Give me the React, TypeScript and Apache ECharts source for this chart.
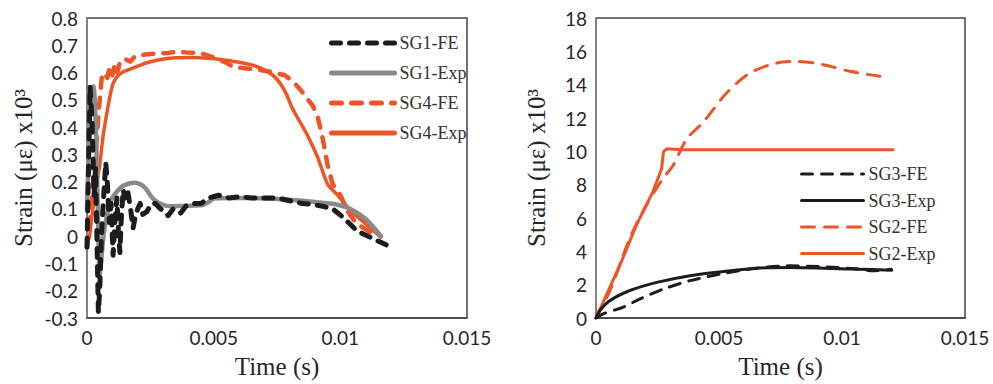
import React, { useEffect, useRef } from "react";
import * as echarts from "echarts";

// Left panel: SG1 / SG4 strain histories [time (s), strain x10^3]
const sg1FE: [number, number][] = [
  [0, -0.04], [0.00008, 0.35], [0.00012, 0.55], [0.0002, 0.42], [0.00028, 0.15], [0.00034, 0.25],
  [0.0004, -0.05], [0.00045, -0.28], [0.0005, -0.2], [0.00058, 0.02], [0.00066, 0.15], [0.00074, 0.27],
  [0.0008, 0.2], [0.00088, 0.05], [0.00095, 0.12], [0.00103, -0.07], [0.0011, 0.05], [0.00118, 0.14],
  [0.00124, 0.02], [0.0013, -0.06], [0.00136, 0.08], [0.00143, 0.17], [0.0015, 0.14], [0.0016, 0.17],
  [0.00172, 0.1], [0.00182, 0.03], [0.0019, 0.07], [0.002, 0.1], [0.0021, 0.12], [0.0022, 0.08],
  [0.00236, 0.09], [0.00255, 0.12], [0.0027, 0.12], [0.0029, 0.1], [0.0031, 0.09], [0.0032, 0.075],
  [0.0034, 0.1], [0.0036, 0.095], [0.0037, 0.085], [0.0039, 0.11], [0.0042, 0.12], [0.0045, 0.12],
  [0.0048, 0.14], [0.0052, 0.15], [0.0056, 0.14], [0.006, 0.145], [0.0065, 0.14], [0.007, 0.14],
  [0.0075, 0.14], [0.008, 0.13], [0.0085, 0.12], [0.0088, 0.117], [0.0093, 0.11], [0.0097, 0.1],
  [0.0101, 0.07], [0.01065, 0.02], [0.01145, -0.016], [0.012, -0.04],
];
const sg1Exp: [number, number][] = [
  [0, 0.1], [0.00008, 0.35], [0.00015, 0.5], [0.00025, 0.55], [0.00033, 0.45], [0.0004, 0.2],
  [0.00045, 0.0], [0.0005, -0.14], [0.00055, -0.1], [0.00065, 0.0], [0.00075, 0.06], [0.00085, 0.1],
  [0.001, 0.14], [0.00124, 0.17], [0.0015, 0.188], [0.0019, 0.196], [0.0021, 0.19], [0.0023, 0.177],
  [0.0025, 0.15], [0.0027, 0.13], [0.003, 0.115], [0.0033, 0.11], [0.0045, 0.113], [0.0048, 0.125],
  [0.005, 0.138], [0.0055, 0.14], [0.0065, 0.14], [0.0077, 0.135], [0.009, 0.125], [0.0098, 0.117],
  [0.0104, 0.1], [0.011, 0.063], [0.0116, 0.0],
];
const sg4FE: [number, number][] = [
  [0, -0.04], [0.0001, 0.05], [0.0002, 0.15], [0.0003, 0.25], [0.0004, 0.38], [0.0005, 0.5],
  [0.00058, 0.58], [0.0007, 0.6], [0.0008, 0.58], [0.0009, 0.62], [0.001, 0.59], [0.0011, 0.63],
  [0.0012, 0.6], [0.0013, 0.64], [0.0015, 0.65], [0.0017, 0.64], [0.0019, 0.66], [0.0023, 0.666],
  [0.0028, 0.67], [0.0032, 0.672], [0.0036, 0.676], [0.0039, 0.674], [0.0044, 0.672], [0.0047, 0.665],
  [0.005, 0.655], [0.0054, 0.64], [0.0058, 0.62], [0.0063, 0.615], [0.0068, 0.61], [0.0074, 0.6],
  [0.0078, 0.59], [0.0081, 0.57], [0.0084, 0.54], [0.0086, 0.515], [0.0089, 0.48], [0.0091, 0.44],
  [0.0093, 0.36], [0.0095, 0.26], [0.0097, 0.19], [0.01, 0.15], [0.0103, 0.09], [0.0106, 0.05],
  [0.011, 0.025], [0.0115, 0.0],
];
const sg4Exp: [number, number][] = [
  [0, -0.03], [0.0001, 0.0], [0.0003, 0.15], [0.0005, 0.26], [0.00064, 0.37], [0.0008, 0.46],
  [0.0009, 0.51], [0.00103, 0.56], [0.00124, 0.59], [0.0015, 0.605], [0.0019, 0.62], [0.0024, 0.637],
  [0.0029, 0.648], [0.0035, 0.654], [0.0041, 0.655], [0.0048, 0.652], [0.0054, 0.646], [0.006, 0.638],
  [0.0065, 0.628], [0.007, 0.61], [0.0074, 0.585], [0.0077, 0.55], [0.0079, 0.515], [0.0081, 0.47],
  [0.0084, 0.42], [0.0087, 0.37], [0.0091, 0.29], [0.0095, 0.19], [0.0099, 0.15], [0.0104, 0.094],
  [0.011, 0.045], [0.0116, -0.004],
];

// Right panel: SG3 / SG2 strain histories
const sg3FE: [number, number][] = [
  [0, 0], [0.00029, 0.25], [0.00111, 0.65], [0.00179, 1.15], [0.00274, 1.74], [0.00382, 2.24],
  [0.00518, 2.67], [0.00653, 2.99], [0.00789, 3.13], [0.00924, 3.07], [0.0106, 2.95], [0.01127, 2.83],
  [0.012, 2.93],
];
const sg3Exp: [number, number][] = [
  [0, 0], [0.00016, 0.45], [0.00057, 1.05], [0.00138, 1.65], [0.00247, 2.14], [0.00382, 2.54],
  [0.00518, 2.79], [0.00653, 2.99], [0.00789, 3.03], [0.00924, 2.99], [0.0106, 2.93], [0.01202, 2.87],
];
const sg2FE: [number, number][] = [
  [0, 0], [0.00057, 1.66], [0.00138, 4.8], [0.00206, 6.8], [0.00274, 8.4], [0.00314, 9.17],
  [0.00369, 10.75], [0.00436, 11.75], [0.00531, 13.5], [0.00626, 14.7], [0.00734, 15.3],
  [0.00816, 15.4], [0.00924, 15.2], [0.01033, 14.8], [0.01154, 14.5],
];
const sg2Exp: [number, number][] = [
  [0, 0], [0.00098, 3.2], [0.00165, 5.6], [0.00232, 7.6], [0.00267, 8.97], [0.00274, 9.96],
  [0.00287, 10.16], [0.0035, 10.1], [0.01207, 10.1],
];

const xTicks = [0, 0.005, 0.01, 0.015];
const leftLegend = ["SG1-FE", "SG1-Exp", "SG4-FE", "SG4-Exp"];
const rightLegend = ["SG3-FE", "SG3-Exp", "SG2-FE", "SG2-Exp"];

const ORANGE = "#EE5526";
const BLACK = "#1c1c1c";
const GREY = "#8a8a8a";
const SERIF = "Liberation Serif";
const SANS = "Lato";

export default function App() {
  const ref = useRef<HTMLDivElement>(null);

  useEffect(() => {
    if (!ref.current) return;
    const chart = echarts.init(ref.current, undefined, { renderer: "svg" });

    const tickLabel = { fontFamily: SANS, fontSize: 19, color: "#262626" };
    const titleStyle = { fontFamily: SERIF, fontSize: 25, color: "#262626" };
    const xFmt = (v: number) => String(+v.toFixed(3));

    const xAxisBase = (gridIndex: number) => ({
      type: "value" as const,
      gridIndex,
      min: xTicks[0],
      max: xTicks[xTicks.length - 1],
      interval: 0.005,
      name: "Time (s)",
      nameLocation: "middle" as const,
      nameGap: 36,
      nameTextStyle: titleStyle,
      axisLine: { show: true, onZero: false, lineStyle: { color: "#444", width: 1.5 } },
      axisTick: { show: false },
      splitLine: { show: false },
      axisLabel: { ...tickLabel, margin: 10, formatter: xFmt },
    });

    const yName = "Strain (με) x10³";

    const lineS = (
      name: string,
      data: [number, number][],
      idx: number,
      color: string,
      width: number,
      dash: number[] | "solid",
      smooth: number | boolean
    ) => ({
      name,
      type: "line" as const,
      xAxisIndex: idx,
      yAxisIndex: idx,
      data,
      symbol: "none",
      smooth,
      lineStyle: { color, width, type: dash, cap: "round" as const, join: "round" as const },
      itemStyle: { color },
      z: 2,
    });

    chart.setOption({
      animation: false,
      backgroundColor: "#ffffff",
      grid: [
        { left: 87, top: 18, width: 380, height: 304, show: true, borderColor: "#444", borderWidth: 1.5, backgroundColor: "transparent" },
        { left: 596, top: 18, width: 369, height: 303, show: true, borderColor: "#444", borderWidth: 1.5, backgroundColor: "transparent" },
      ],
      xAxis: [xAxisBase(0), xAxisBase(1)],
      yAxis: [
        {
          type: "value",
          gridIndex: 0,
          min: -0.3,
          max: 0.8,
          interval: 0.1,
          name: yName,
          nameLocation: "middle",
          nameGap: 51,
          nameTextStyle: titleStyle,
          axisLine: { show: true, onZero: false, lineStyle: { color: "#888", width: 1.5 } },
          axisTick: { show: false },
          splitLine: { show: false },
          axisLabel: { ...tickLabel, margin: 9, formatter: (v: number) => String(+v.toFixed(1)) },
        },
        {
          type: "value",
          gridIndex: 1,
          min: 0,
          max: 18,
          interval: 2,
          name: yName,
          nameLocation: "middle",
          nameGap: 47,
          nameTextStyle: titleStyle,
          axisLine: { show: true, onZero: false, lineStyle: { color: "#888", width: 1.5 } },
          axisTick: { show: false },
          splitLine: { show: false },
          axisLabel: { ...tickLabel, margin: 9 },
        },
      ],
      legend: [
        {
          data: leftLegend,
          orient: "vertical",
          left: 329,
          top: 34,
          padding: 0,
          itemWidth: 63,
          itemHeight: 18,
          itemGap: 12,
          itemStyle: { opacity: 0 },
          lineStyle: { width: 5 },
          textStyle: { fontFamily: SERIF, fontSize: 18, color: "#333" },
          selectedMode: false,
        },
        {
          data: rightLegend,
          orient: "vertical",
          left: 800,
          top: 165,
          padding: 0,
          itemWidth: 62,
          itemHeight: 18,
          itemGap: 8.5,
          itemStyle: { opacity: 0 },
          lineStyle: { width: 3 },
          textStyle: { fontFamily: SERIF, fontSize: 18, color: "#333" },
          selectedMode: false,
        },
      ],
      series: [
        lineS("SG4-Exp", sg4Exp, 0, ORANGE, 3.5, "solid", 0.2),
        lineS("SG4-FE", sg4FE, 0, ORANGE, 4.5, [10, 10], false),
        lineS("SG1-Exp", sg1Exp, 0, GREY, 4.5, "solid", 0.3),
        lineS("SG1-FE", sg1FE, 0, BLACK, 5, [9, 9], false),
        lineS("SG2-Exp", sg2Exp, 1, ORANGE, 3, "solid", false),
        lineS("SG2-FE", sg2FE, 1, ORANGE, 3, [13, 10], 0.3),
        lineS("SG3-Exp", sg3Exp, 1, BLACK, 3, "solid", 0.3),
        lineS("SG3-FE", sg3FE, 1, BLACK, 3, [11, 9], 0.3),
      ],
    });

    return () => chart.dispose();
  }, []);

  return (
    <div
      ref={ref}
      style={{ position: "fixed", left: 0, top: 0, width: 993, height: 384, background: "#fff" }}
    />
  );
}
